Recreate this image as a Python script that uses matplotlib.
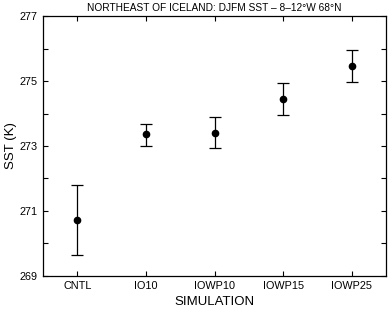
import matplotlib
matplotlib.use("Agg")
import matplotlib.pyplot as plt
from matplotlib.ticker import FixedLocator

plt.rcParams['font.family'] = ['Liberation Sans', 'DejaVu Sans']

runs = ['CNTL', 'IO10', 'IOWP10', 'IOWP15', 'IOWP25']
sst_mean = [270.72, 273.36, 273.41, 274.44, 275.46]
sst_low = [269.65, 273.01, 272.95, 273.96, 274.96]
sst_high = [271.81, 273.69, 273.88, 274.93, 275.96]
y_major = [269, 271, 273, 275, 277]
y_minor = [270, 272, 274, 276]

x = list(range(1, len(runs) + 1))
err_lo = [m - l for m, l in zip(sst_mean, sst_low)]
err_hi = [h - m for m, h in zip(sst_mean, sst_high)]

fig = plt.figure(figsize=(3.88, 3.10), dpi=100)
ax = fig.add_axes([0.111, 0.11, 0.884, 0.838])

ax.errorbar(x, sst_mean, yerr=[err_lo, err_hi], fmt='o', color='black',
            ms=4.5, elinewidth=0.9, capsize=4.5, capthick=0.9)

ax.set_xlim(0.5, 5.5)
ax.set_ylim(269, 277)
ax.set_xticks(x)
ax.set_xticklabels(runs)
ax.yaxis.set_major_locator(FixedLocator(y_major))
ax.yaxis.set_minor_locator(FixedLocator(y_minor))
ax.tick_params(direction='in', top=True, right=True, labelsize=7.8,
               length=3.5, width=0.8, pad=4)
ax.tick_params(which='minor', direction='in', right=True, length=3.5, width=0.8)
for s in ax.spines.values():
    s.set_linewidth(0.9)

ax.set_xlabel('SIMULATION', fontsize=9.5, labelpad=3)
ax.set_ylabel('SST (K)', fontsize=9.5, labelpad=2)
ax.set_title('NORTHEAST OF ICELAND: DJFM SST \u2013 8\u201312\u00b0W 68\u00b0N',
             fontsize=7.3, pad=4)

fig.savefig('out.png', dpi=100)
